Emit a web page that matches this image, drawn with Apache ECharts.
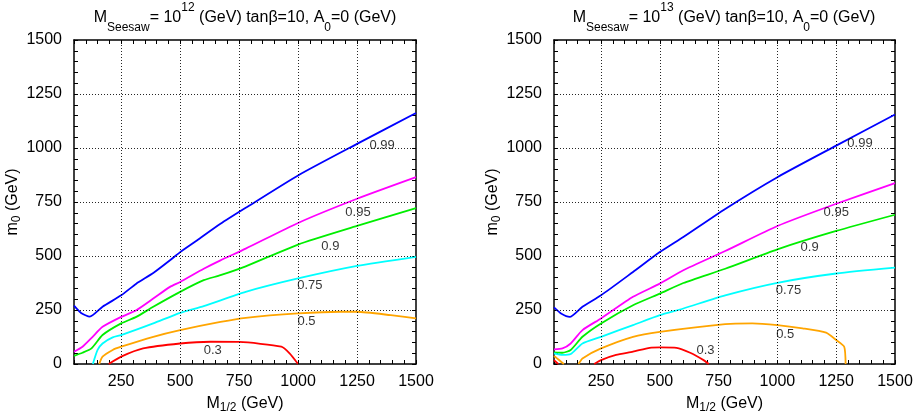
<!DOCTYPE html>
<html><head><meta charset="utf-8">
<script src="https://cdn.jsdelivr.net/npm/echarts@6/dist/echarts.min.js"></script>
<style>html,body{margin:0;padding:0;background:#fff}#c{width:917px;height:419px}</style>
</head><body><div id="c"></div>
<script>
// ---- tick / grid values ----
const xLabelStep = 250;
const yLabelStep = 250;
const gridXValues = [250, 500, 750, 1000, 1250];
const gridYValues = [250, 500, 750, 1000, 1250];
const levels = ['0.99', '0.95', '0.9', '0.75', '0.5', '0.3'];
const levelColors = ['#0000ff', '#ff00ff', '#00ee00', '#00ffff', '#ffa500', '#ff0000'];

// ---- left panel: M_Seesaw = 10^12 ----
const L_099 = [[50,270],[80,236],[117,219],[171,265],[250,318],[314,372],[386,421],[457,480],[500,518],[571,572],[671,649],[778,723],[1000,873],[1250,1019],[1500,1162]];
const L_095 = [[50,57],[86,80],[129,126],[171,172],[250,218],[314,249],[386,303],[457,357],[500,380],[600,441],[671,480],[778,534],[1000,653],[1250,765],[1500,865]];
const L_090 = [[50,38],[86,52],[124,72],[171,134],[250,188],[314,218],[386,265],[500,334],[600,388],[671,411],[778,452],[1000,553],[1250,639],[1500,722]];
const L_075 = [[130,0],[150,65],[171,95],[214,123],[250,134],[386,188],[500,237],[600,268],[778,334],[1000,396],[1250,454],[1500,496]];
const L_050 = [[157,0],[171,34],[214,65],[250,80],[386,126],[500,157],[671,195],[778,214],[1000,234],[1179,242],[1250,242],[1393,226],[1500,211]];
const L_030 = [[197,0],[250,34],[343,72],[500,95],[629,103],[750,102],[929,80],[964,49],[1000,0]];
const L_labels = [[1356,1014],[1254,703],[1137,546],[1050,365],[1036,195],[638,65]];

// ---- right panel: M_Seesaw = 10^13 ----
const R_099 = [[50,262],[80,234],[117,218],[171,265],[250,318],[386,426],[500,518],[600,588],[778,718],[1000,865],[1250,1011],[1500,1155]];
const R_095 = [[50,68],[86,72],[121,95],[171,157],[250,211],[386,311],[500,372],[600,434],[778,523],[1000,639],[1250,742],[1500,837]];
const R_090 = [[50,54],[86,52],[121,65],[171,126],[250,188],[386,272],[500,326],[600,375],[778,441],[1000,531],[1250,616],[1500,691]];
const R_075 = [[50,49],[86,42],[121,46],[171,95],[250,126],[386,180],[500,226],[600,257],[778,318],[1000,376],[1250,419],[1500,446]];
const R_050 = [[154,0],[171,26],[250,72],[386,126],[500,149],[778,185],[893,188],[1000,180],[1107,165],[1207,145],[1250,111],[1284,80],[1290,0]];
const R_050b = [[50,37],[70,20],[92,0]];
const R_030 = [[221,0],[250,18],[314,42],[386,57],[457,75],[500,77],[571,75],[629,52],[686,18],[708,0]];
const R_030b = [[50,18],[68,0]];
const R_labels = [[1351,1019],[1250,703],[1137,542],[1047,342],[1033,139],[694,65]];

const titles = [
  '{n|M}{b|Seesaw}{n|= 10}{p|12}{n| (GeV) tanβ=10, A}{b|0}{n|=0 (GeV)}',
  '{n|M}{b|Seesaw}{n|= 10}{p|13}{n| (GeV) tanβ=10, A}{b|0}{n|=0 (GeV)}'
];

const FONT = '"Liberation Sans", Arial, Helvetica, sans-serif';
const chart = echarts.init(document.getElementById('c'), null, {renderer: 'canvas'});

const grids = [
  {left: 74, top: 40, width: 342, height: 324},
  {left: 554, top: 40, width: 341, height: 324}
];

const fmt = step => v => (v % step === 0 ? String(v) : '');
const tickCommon = {show: true, inside: true, length: 4, lineStyle: {color: '#000', width: 1}};
const lineCommon = {show: true, onZero: false, lineStyle: {color: '#000', width: 1.5}};

const xAxes = [], yAxes = [];
grids.forEach((g, i) => {
  xAxes.push({
    type: 'value', gridIndex: i, position: 'bottom', min: 50, max: 1500, interval: 50,
    axisLine: lineCommon, axisTick: tickCommon, splitLine: {show: false},
    axisLabel: {formatter: fmt(xLabelStep), color: '#000', fontSize: 16, fontFamily: FONT, margin: 10},
    name: '{n|M}{b|1/2}{n| (GeV)}', nameLocation: 'middle', nameGap: 30,
    nameTextStyle: {rich: {
      n: {fontSize: 16, fontFamily: FONT, color: '#000', lineHeight: 20},
      b: {fontSize: 12, fontFamily: FONT, color: '#000', lineHeight: 8, verticalAlign: 'bottom'}
    }}
  });
  xAxes.push({
    type: 'value', gridIndex: i, position: 'top', min: 50, max: 1500, interval: 50,
    axisLine: lineCommon, axisTick: tickCommon, splitLine: {show: false}, axisLabel: {show: false}
  });
  yAxes.push({
    type: 'value', gridIndex: i, position: 'left', min: 0, max: 1500, interval: 50,
    axisLine: lineCommon, axisTick: tickCommon, splitLine: {show: false},
    axisLabel: {formatter: fmt(yLabelStep), color: '#000', fontSize: 16, fontFamily: FONT, margin: 12},
    name: '{n|m}{b|0}{n| (GeV)}', nameLocation: 'middle', nameGap: 42, nameRotate: 90,
    nameTextStyle: {rich: {
      n: {fontSize: 16, fontFamily: FONT, color: '#000', lineHeight: 20},
      b: {fontSize: 12, fontFamily: FONT, color: '#000', lineHeight: 8, verticalAlign: 'bottom'}
    }}
  });
  yAxes.push({
    type: 'value', gridIndex: i, position: 'right', min: 0, max: 1500, interval: 50,
    axisLine: lineCommon, axisTick: tickCommon, splitLine: {show: false}, axisLabel: {show: false}
  });
});

const series = [];
function addPanel(i, curves, labels) {
  const xi = i * 2, yi = i * 2;
  // grid lines
  series.push({
    type: 'line', xAxisIndex: xi, yAxisIndex: yi, data: [], z: 1, silent: true,
    markLine: {
      silent: true, symbol: ['none', 'none'], animation: false,
      label: {show: false},
      lineStyle: {color: '#000', width: 1, type: [1, 2], opacity: 0.85},
      data: gridXValues.map(v => ({xAxis: v})).concat(gridYValues.map(v => ({yAxis: v})))
    }
  });
  curves.forEach(c => {
    series.push({
      type: 'line', xAxisIndex: xi, yAxisIndex: yi, data: c.data, z: 3,
      showSymbol: false, symbol: 'none', smooth: 0.2, silent: true, animation: false,
      lineStyle: {color: levelColors[c.lvl], width: 1.8}
    });
  });
  series.push({
    type: 'scatter', xAxisIndex: xi, yAxisIndex: yi, symbolSize: 0, z: 4, silent: true, animation: false,
    data: labels.map((p, k) => [p[0], p[1], levels[k]]),
    label: {show: true, position: 'inside', formatter: p => p.data[2], color: '#000', fontSize: 13, fontFamily: FONT}
  });
}

addPanel(0, [
  {lvl: 0, data: L_099}, {lvl: 1, data: L_095}, {lvl: 2, data: L_090},
  {lvl: 3, data: L_075}, {lvl: 4, data: L_050}, {lvl: 5, data: L_030}
], L_labels);
addPanel(1, [
  {lvl: 0, data: R_099}, {lvl: 1, data: R_095}, {lvl: 2, data: R_090},
  {lvl: 3, data: R_075}, {lvl: 4, data: R_050}, {lvl: 4, data: R_050b},
  {lvl: 5, data: R_030}, {lvl: 5, data: R_030b}
], R_labels);

const titleRich = {
  n: {fontSize: 16, fontFamily: FONT, fontWeight: 'normal', color: '#000', lineHeight: 32},
  b: {fontSize: 12, fontFamily: FONT, fontWeight: 'normal', color: '#000', lineHeight: 22, verticalAlign: 'bottom'},
  p: {fontSize: 12, fontFamily: FONT, fontWeight: 'normal', color: '#000', lineHeight: 12, verticalAlign: 'top'}
};

chart.setOption({
  animation: false,
  backgroundColor: '#fff',
  title: [
    {text: titles[0], left: 245, top: 2, textAlign: 'center', padding: 0, textStyle: {fontWeight: 'normal', rich: titleRich}},
    {text: titles[1], left: 724, top: 2, textAlign: 'center', padding: 0, textStyle: {fontWeight: 'normal', rich: titleRich}}
  ],
  grid: grids,
  xAxis: xAxes,
  yAxis: yAxes,
  series: series
});
</script>
</body></html>
